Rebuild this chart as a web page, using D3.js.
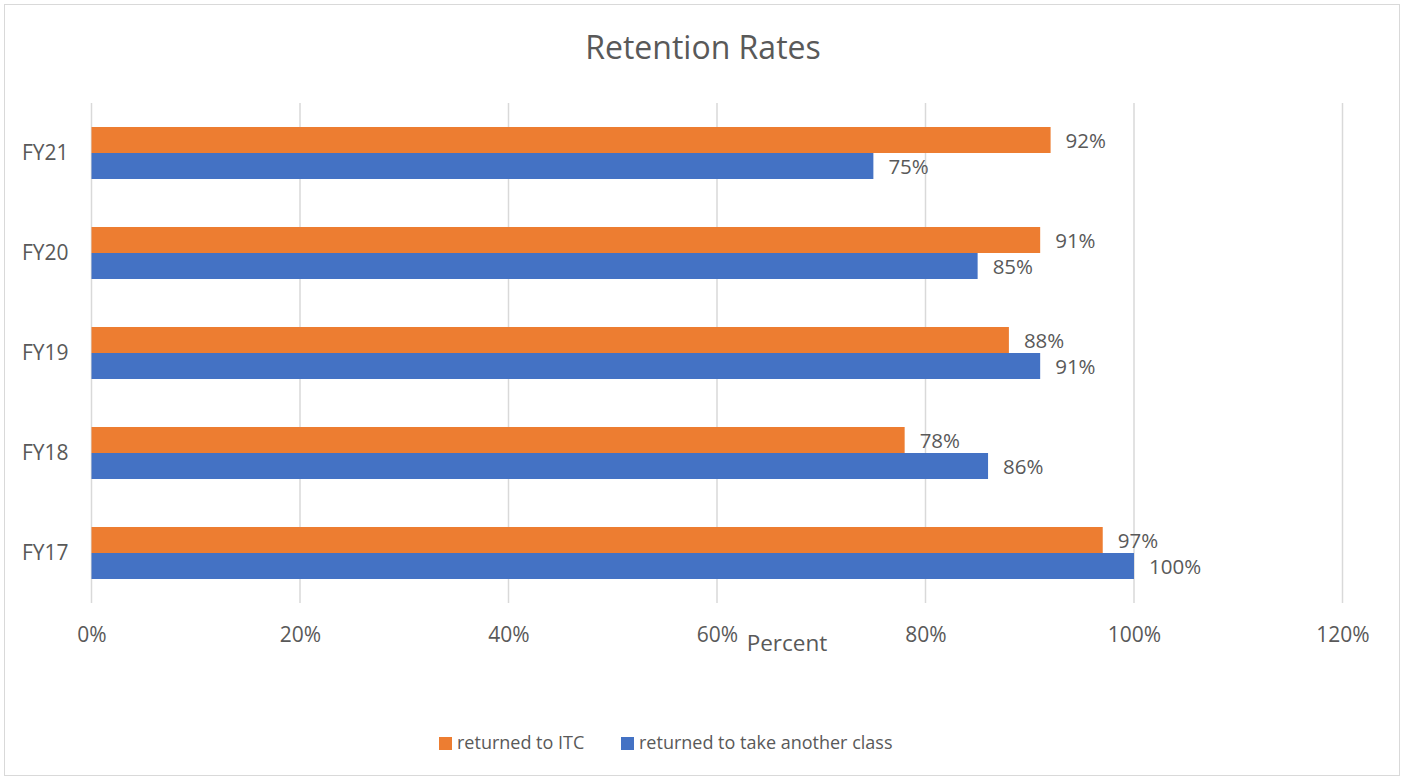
<!DOCTYPE html>
<html><head><meta charset="utf-8">
<script src="https://cdn.jsdelivr.net/npm/d3@7"></script>
<style>body{margin:0;background:#fff}text{font-family:"Open Sans",sans-serif;fill:#595959}</style>
</head><body><svg id="c" width="1406" height="780"></svg>
<script>
const categories = ["FY21","FY20","FY19","FY18","FY17"];
const seriesNames = ["returned to ITC","returned to take another class"];
const itc = [92,91,88,78,97];
const anotherClass = [75,85,91,86,100];
const xTicks = [0,20,40,60,80,100,120];
const colors = ["#ED7D31","#4472C4"];

const svg = d3.select("#c");
svg.append("rect").attr("x",4.5).attr("y",4.5).attr("width",1395).attr("height",771)
  .attr("fill","#fff").attr("stroke","#D9D9D9").attr("stroke-width",1);

const x = d3.scaleLinear().domain([0,120]).range([91.5,1342.5]);
const y = d3.scaleBand().domain(categories).range([103,603]).paddingInner(0).paddingOuter(0);
const inner = d3.scaleBand().domain([0,1]).range([y.bandwidth()/2-26, y.bandwidth()/2+26]);

// gridlines
svg.append("g").selectAll("line").data(xTicks).join("line")
  .attr("x1",d=>x(d)).attr("x2",d=>x(d)).attr("y1",103).attr("y2",603)
  .attr("stroke","#D9D9D9").attr("stroke-width",1.5);

// x axis labels
const xa = svg.append("g").attr("transform","translate(0,603)")
  .call(d3.axisBottom(x).tickValues(xTicks).tickFormat(d=>d+"%").tickSize(0).tickPadding(24));
xa.select(".domain").remove();
xa.selectAll("text").attr("font-size",21).attr("fill","#595959").attr("font-family","Open Sans");

// y axis labels
const ya = svg.append("g").attr("transform","translate(91.5,0)")
  .call(d3.axisLeft(y).tickSize(0).tickPadding(23));
ya.select(".domain").remove();
ya.selectAll("text").attr("font-size",21).attr("fill","#595959").attr("font-family","Open Sans");

const rows = categories.map((c,i)=>({c, v:[itc[i], anotherClass[i]]}));
const g = svg.append("g");
rows.forEach(r=>{
  r.v.forEach((v,k)=>{
    const yy = y(r.c)+inner(k);
    g.append("rect").attr("x",x(0)).attr("y",yy).attr("width",x(v)-x(0)).attr("height",inner.bandwidth())
      .attr("fill",colors[k]);
    g.append("text").attr("x",x(v)+15).attr("y",yy+inner.bandwidth()/2+1).attr("dy","0.35em")
      .attr("font-size",20.5).text(v+"%");
  });
});

svg.append("text").attr("x",703).attr("y",48).attr("dy","0.35em").attr("text-anchor","middle")
  .attr("font-size",32).text("Retention Rates");
svg.append("text").attr("x",787).attr("y",643).attr("dy","0.35em").attr("text-anchor","middle")
  .attr("font-size",22.5).text("Percent");

// legend
const leg = svg.append("g");
const legX = [439, 621];
seriesNames.forEach((n,k)=>{
  leg.append("rect").attr("x",legX[k]).attr("y",737).attr("width",13).attr("height",13).attr("fill",colors[k]);
  leg.append("text").attr("x",legX[k]+18).attr("y",743).attr("dy","0.35em").attr("font-size",18).text(n);
});
</script></body></html>
